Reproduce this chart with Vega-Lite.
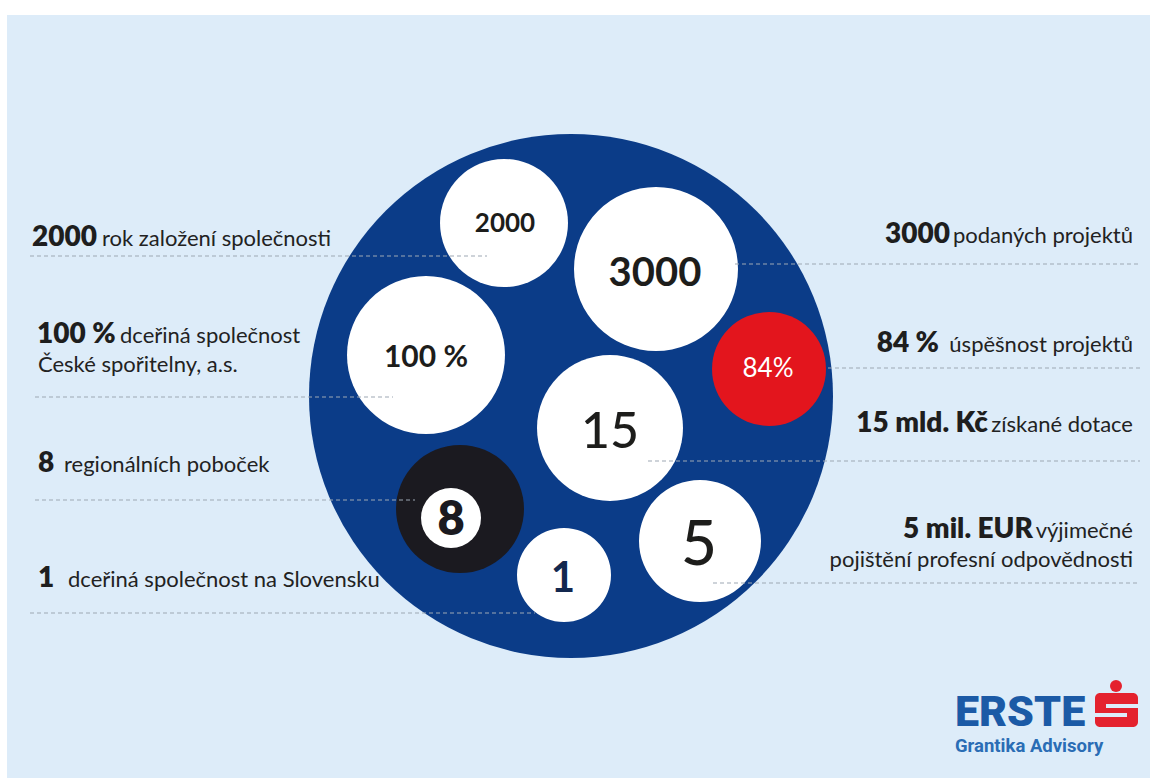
{
  "$schema": "https://vega.github.io/schema/vega-lite/v6.json",
  "width": 1150,
  "height": 778,
  "autosize": {"type": "none"},
  "padding": 0,
  "background": "#ffffff",
  "config": {"view": {"stroke": null}},
  "datasets": {
    "panel": [{"x": 7, "x2": 1150, "y": 15, "y2": 778}],
    "bubbles": [
      {"id": "outer", "x": 571, "y": 396, "r": 262},
      {"id": "b2000", "x": 504, "y": 223, "r": 64},
      {"id": "b3000", "x": 656, "y": 269, "r": 82},
      {"id": "b100", "x": 426, "y": 355, "r": 79},
      {"id": "b84", "x": 769, "y": 369, "r": 57},
      {"id": "b15", "x": 610, "y": 428, "r": 73},
      {"id": "b8", "x": 460, "y": 509, "r": 64},
      {"id": "b8in", "x": 451, "y": 518, "r": 30},
      {"id": "b5", "x": 700, "y": 541, "r": 61},
      {"id": "b1", "x": 564, "y": 575, "r": 47}
    ],
    "bubbleLabels": [
      {"label": "2000", "x": 505, "y": 232},
      {"label": "3000", "x": 655, "y": 286},
      {"label": "100 %", "x": 426, "y": 367},
      {"label": "84%", "x": 768, "y": 377},
      {"label": "15", "x": 610, "y": 448},
      {"label": "8", "x": 451, "y": 535},
      {"label": "5", "x": 699, "y": 565},
      {"label": "1", "x": 563, "y": 592}
    ],
    "lines": [
      {"x": 30, "x2": 487, "y": 256},
      {"x": 35, "x2": 393, "y": 397},
      {"x": 35, "x2": 415, "y": 500},
      {"x": 30, "x2": 535, "y": 613},
      {"x": 735, "x2": 1140, "y": 264},
      {"x": 828, "x2": 1140, "y": 368},
      {"x": 648, "x2": 1140, "y": 461},
      {"x": 713, "x2": 1140, "y": 583}
    ],
    "labels": [
      {"side": "L", "part": "num", "text": "2000", "x": 32, "y": 246},
      {"side": "L", "part": "txt", "text": "rok založení společnosti", "x": 102, "y": 246},
      {"side": "L", "part": "num", "text": "100 %", "x": 37, "y": 343},
      {"side": "L", "part": "txt", "text": "dceřiná společnost", "x": 120, "y": 343},
      {"side": "L", "part": "txt", "text": "České spořitelny, a.s.", "x": 38, "y": 372},
      {"side": "L", "part": "num", "text": "8", "x": 38, "y": 472},
      {"side": "L", "part": "txt", "text": "regionálních poboček", "x": 64, "y": 472},
      {"side": "L", "part": "num", "text": "1", "x": 38, "y": 587},
      {"side": "L", "part": "txt", "text": "dceřiná společnost na Slovensku", "x": 68, "y": 587},
      {"side": "R", "part": "num", "text": "3000", "x": 950, "y": 243},
      {"side": "R", "part": "txt", "text": "podaných projektů", "x": 1133, "y": 243},
      {"side": "R", "part": "num", "text": "84 %", "x": 939, "y": 352},
      {"side": "R", "part": "txt", "text": "úspěšnost projektů", "x": 1133, "y": 352},
      {"side": "R", "part": "num", "text": "15 mld. Kč", "x": 988, "y": 432},
      {"side": "R", "part": "txt", "text": "získané dotace", "x": 1133, "y": 432},
      {"side": "R", "part": "num", "text": "5 mil. EUR", "x": 1033, "y": 538},
      {"side": "R", "part": "txt", "text": "výjimečné", "x": 1133, "y": 538},
      {"side": "R", "part": "txt", "text": "pojištění profesní odpovědnosti", "x": 1133, "y": 567}
    ],
    "logoShapes": [
      {"part": "block", "x": 1095, "x2": 1138, "y": 693, "y2": 727},
      {"part": "notch", "x": 1106, "x2": 1139, "y": 704, "y2": 708},
      {"part": "notch", "x": 1094, "x2": 1127, "y": 713, "y2": 717}
    ],
    "logoDot": [{"x": 1116, "y": 686, "r": 6}],
    "logoText": [
      {"part": "brand", "text": "ERSTE", "x": 955, "y": 726},
      {"part": "sub", "text": "Grantika Advisory", "x": 955, "y": 752}
    ]
  },
  "encoding": {
    "x": {"field": "x", "type": "quantitative", "scale": {"domain": [0, 1150], "nice": false, "zero": false}, "axis": null},
    "y": {"field": "y", "type": "quantitative", "scale": {"domain": [0, 778], "reverse": true, "nice": false, "zero": false}, "axis": null}
  },
  "layer": [
    {
      "data": {"name": "panel"},
      "mark": {"type": "rect", "fill": "#ddecf9"},
      "encoding": {"x2": {"field": "x2"}, "y2": {"field": "y2"}}
    },
    {
      "data": {"name": "bubbles"},
      "mark": {"type": "circle", "opacity": 1},
      "encoding": {
        "size": {"field": "r", "type": "quantitative", "scale": {"type": "pow", "exponent": 2, "domain": [0, 300], "range": [0, 360000]}, "legend": null},
        "color": {"field": "id", "type": "nominal", "legend": null,
          "scale": {"domain": ["outer", "b2000", "b3000", "b100", "b84", "b15", "b8", "b8in", "b5", "b1"],
                    "range": ["#0b3c88", "#ffffff", "#ffffff", "#ffffff", "#e3151d", "#ffffff", "#1b1a20", "#ffffff", "#ffffff", "#ffffff"]}}
      }
    },
    {
      "data": {"name": "lines"},
      "mark": {"type": "rule", "color": "#9ea8b3", "strokeWidth": 1.2, "strokeDash": [4, 3]},
      "encoding": {"x2": {"field": "x2"}}
    },
    {
      "data": {"name": "bubbleLabels"},
      "transform": [{"filter": "datum.label == '2000'"}],
      "mark": {"type": "text", "font": "Lato", "fontWeight": 700, "fontSize": 26, "align": "center", "baseline": "alphabetic", "color": "#1d1d1b"},
      "encoding": {"text": {"field": "label"}}
    },
    {
      "data": {"name": "bubbleLabels"},
      "transform": [{"filter": "datum.label == '3000'"}],
      "mark": {"type": "text", "font": "Lato", "fontWeight": 700, "fontSize": 40, "align": "center", "baseline": "alphabetic", "color": "#1d1d1b"},
      "encoding": {"text": {"field": "label"}}
    },
    {
      "data": {"name": "bubbleLabels"},
      "transform": [{"filter": "datum.label == '100 %'"}],
      "mark": {"type": "text", "font": "Lato", "fontWeight": 700, "fontSize": 30, "align": "center", "baseline": "alphabetic", "color": "#1d1d1b"},
      "encoding": {"text": {"field": "label"}}
    },
    {
      "data": {"name": "bubbleLabels"},
      "transform": [{"filter": "datum.label == '84%'"}],
      "mark": {"type": "text", "font": "Lato", "fontWeight": 400, "fontSize": 26, "align": "center", "baseline": "alphabetic", "color": "#ffffff"},
      "encoding": {"text": {"field": "label"}}
    },
    {
      "data": {"name": "bubbleLabels"},
      "transform": [{"filter": "datum.label == '15'"}],
      "mark": {"type": "text", "font": "Lato", "fontWeight": 500, "fontSize": 50, "align": "center", "baseline": "alphabetic", "color": "#1d1d1b"},
      "encoding": {"text": {"field": "label"}}
    },
    {
      "data": {"name": "bubbleLabels"},
      "transform": [{"filter": "datum.label == '8'"}],
      "mark": {"type": "text", "font": "Lato", "fontWeight": 800, "fontSize": 47, "align": "center", "baseline": "alphabetic", "color": "#1b1a20"},
      "encoding": {"text": {"field": "label"}}
    },
    {
      "data": {"name": "bubbleLabels"},
      "transform": [{"filter": "datum.label == '5'"}],
      "mark": {"type": "text", "font": "Lato", "fontWeight": 500, "fontSize": 62, "align": "center", "baseline": "alphabetic", "color": "#1d1d1b"},
      "encoding": {"text": {"field": "label"}}
    },
    {
      "data": {"name": "bubbleLabels"},
      "transform": [{"filter": "datum.label == '1'"}],
      "mark": {"type": "text", "font": "Lato", "fontWeight": 700, "fontSize": 42, "align": "center", "baseline": "alphabetic", "color": "#13284f"},
      "encoding": {"text": {"field": "label"}}
    },
    {
      "data": {"name": "labels"},
      "transform": [{"filter": "datum.side == 'L' && datum.part == 'num'"}],
      "mark": {"type": "text", "font": "Lato", "fontWeight": 800, "fontSize": 28, "align": "left", "baseline": "alphabetic", "color": "#1e1e1e"},
      "encoding": {"text": {"field": "text"}}
    },
    {
      "data": {"name": "labels"},
      "transform": [{"filter": "datum.side == 'L' && datum.part == 'txt'"}],
      "mark": {"type": "text", "font": "Lato", "fontWeight": 400, "fontSize": 22, "align": "left", "baseline": "alphabetic", "color": "#222222"},
      "encoding": {"text": {"field": "text"}}
    },
    {
      "data": {"name": "labels"},
      "transform": [{"filter": "datum.side == 'R' && datum.part == 'num'"}],
      "mark": {"type": "text", "font": "Lato", "fontWeight": 800, "fontSize": 28, "align": "right", "baseline": "alphabetic", "color": "#1e1e1e"},
      "encoding": {"text": {"field": "text"}}
    },
    {
      "data": {"name": "labels"},
      "transform": [{"filter": "datum.side == 'R' && datum.part == 'txt'"}],
      "mark": {"type": "text", "font": "Lato", "fontWeight": 400, "fontSize": 22, "align": "right", "baseline": "alphabetic", "color": "#222222"},
      "encoding": {"text": {"field": "text"}}
    },
    {
      "data": {"name": "logoShapes"},
      "transform": [{"filter": "datum.part == 'block'"}],
      "mark": {"type": "rect", "fill": "#e4222e", "cornerRadius": 5},
      "encoding": {"x2": {"field": "x2"}, "y2": {"field": "y2"}}
    },
    {
      "data": {"name": "logoShapes"},
      "transform": [{"filter": "datum.part == 'notch'"}],
      "mark": {"type": "rect", "fill": "#ddecf9"},
      "encoding": {"x2": {"field": "x2"}, "y2": {"field": "y2"}}
    },
    {
      "data": {"name": "logoDot"},
      "mark": {"type": "circle", "opacity": 1, "color": "#e4222e"},
      "encoding": {
        "size": {"field": "r", "type": "quantitative", "scale": {"type": "pow", "exponent": 2, "domain": [0, 300], "range": [0, 360000]}, "legend": null}
      }
    },
    {
      "data": {"name": "logoText"},
      "transform": [{"filter": "datum.part == 'brand'"}],
      "mark": {"type": "text", "font": "Roboto", "fontWeight": 900, "fontSize": 43, "align": "left", "baseline": "alphabetic", "color": "#1b5aa6"},
      "encoding": {"text": {"field": "text"}}
    },
    {
      "data": {"name": "logoText"},
      "transform": [{"filter": "datum.part == 'sub'"}],
      "mark": {"type": "text", "font": "Roboto", "fontWeight": 700, "fontSize": 18.5, "align": "left", "baseline": "alphabetic", "color": "#2a6db5"},
      "encoding": {"text": {"field": "text"}}
    }
  ]
}
